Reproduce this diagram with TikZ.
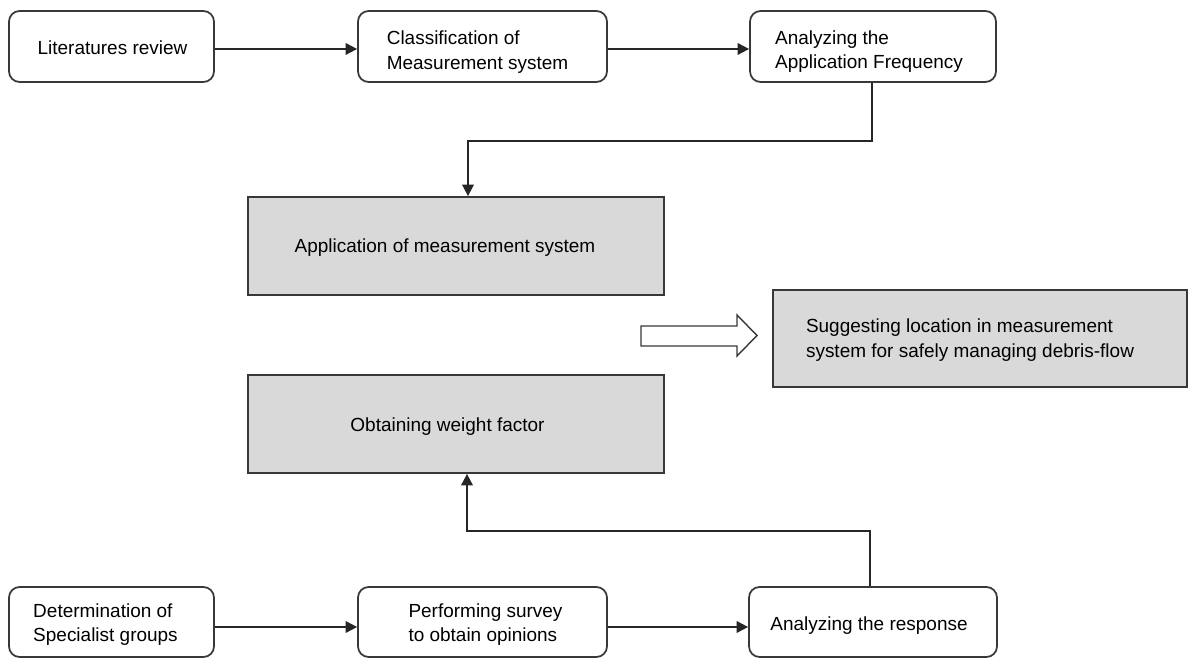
\documentclass[tikz,border=0pt]{standalone}
\usepackage{fontspec}
\setmainfont{Liberation Sans}
\usetikzlibrary{arrows.meta,calc}
\definecolor{boxgray}{HTML}{D9D9D9}
\definecolor{linegray}{HTML}{383838}
\tikzset{
  base/.style={draw=linegray, line width=1pt, inner sep=0pt},
  rbox/.style={base, rounded corners=6pt, fill=white},
  gbox/.style={base, fill=boxgray},
  txt/.style={align=left, inner sep=0pt, font=\fontsize{10.8}{13.8}\selectfont},
  conn/.style={draw=black!85, line width=1pt, -{Triangle[length=6.5pt,width=6.5pt]}},
}
\begin{document}
\begin{tikzpicture}[x=0.02cm,y=-0.02cm]
\useasboundingbox (0,0) rectangle (1189,658);
\clip (0,0) rectangle (1189,658);
\fill[white] (0,0) rectangle (1189,658);
% top row
\node[rbox, minimum width=4.10cm, minimum height=1.42cm] (lit) at (111.5,46.5) {};
\node[rbox, minimum width=4.98cm, minimum height=1.42cm] (cls) at (482.5,46.5) {};
\node[rbox, minimum width=4.92cm, minimum height=1.42cm] (ana) at (873,46.5) {};
% middle
\node[gbox, minimum width=8.32cm, minimum height=1.96cm] (app) at (456,246) {};
\node[gbox, minimum width=8.28cm, minimum height=1.94cm] (sug) at (980,338.5) {};
\node[gbox, minimum width=8.32cm, minimum height=1.96cm] (obt) at (456,424) {};
% bottom row
\node[rbox, minimum width=4.10cm, minimum height=1.40cm] (det) at (111.5,622) {};
\node[rbox, minimum width=4.98cm, minimum height=1.40cm] (per) at (482.5,622) {};
\node[rbox, minimum width=4.96cm, minimum height=1.40cm] (res) at (873,622) {};
% texts
\node[txt] (litT) at ($(lit)+(1,1.5)$) {Literatures review};
\node[txt] (clsT) at ($(cls)+(-5,5.5)$) {Classification of\\Measurement system};
\node[txt] (anaT) at ($(ana)+(-4,5)$) {Analyzing the\\Application Frequency};
\node[txt] (appT) at ($(app)+(-11,2)$) {Application of measurement system};
\node[txt] (sugT) at ($(sug)+(-10,1.5)$) {Suggesting location in measurement\\system for safely managing debris-flow};
\node[txt] (obtT) at ($(obt)+(-8.5,2.5)$) {Obtaining weight factor};
\node[txt] (detT) at ($(det)+(-6,2.5)$) {Determination of\\Specialist groups};
\node[txt] (perT) at ($(per)+(3,2.5)$) {Performing survey\\to obtain opinions};
\node[txt] (resT) at ($(res)+(-4,3.5)$) {Analyzing the response};
% junction coordinates
\coordinate (j1) at (468,141);
\coordinate (j2) at (467,531);
% connectors
\draw[conn] ([yshift=-0.05cm]lit.east) -- ([yshift=-0.05cm]cls.west);
\draw[conn] ([yshift=-0.05cm]cls.east) -- ([yshift=-0.05cm]ana.west);
\draw[conn] ([xshift=-0.02cm]ana.south) |- (j1) -- (j1 |- app.north);
\draw[conn] ([yshift=-0.1cm]det.east) -- ([yshift=-0.1cm]per.west);
\draw[conn] ([yshift=-0.1cm]per.east) -- ([yshift=-0.1cm]res.west);
\draw[conn] ([xshift=-0.06cm]res.north) |- (j2) -- (j2 |- obt.south);
% hollow block arrow
\draw[draw=linegray, line width=0.8pt, fill=white]
  (641,326) -- (737,326) -- (737,315) -- (757,335.5) -- (737,356) -- (737,346) -- (641,346) -- cycle;
\end{tikzpicture}
\end{document}
